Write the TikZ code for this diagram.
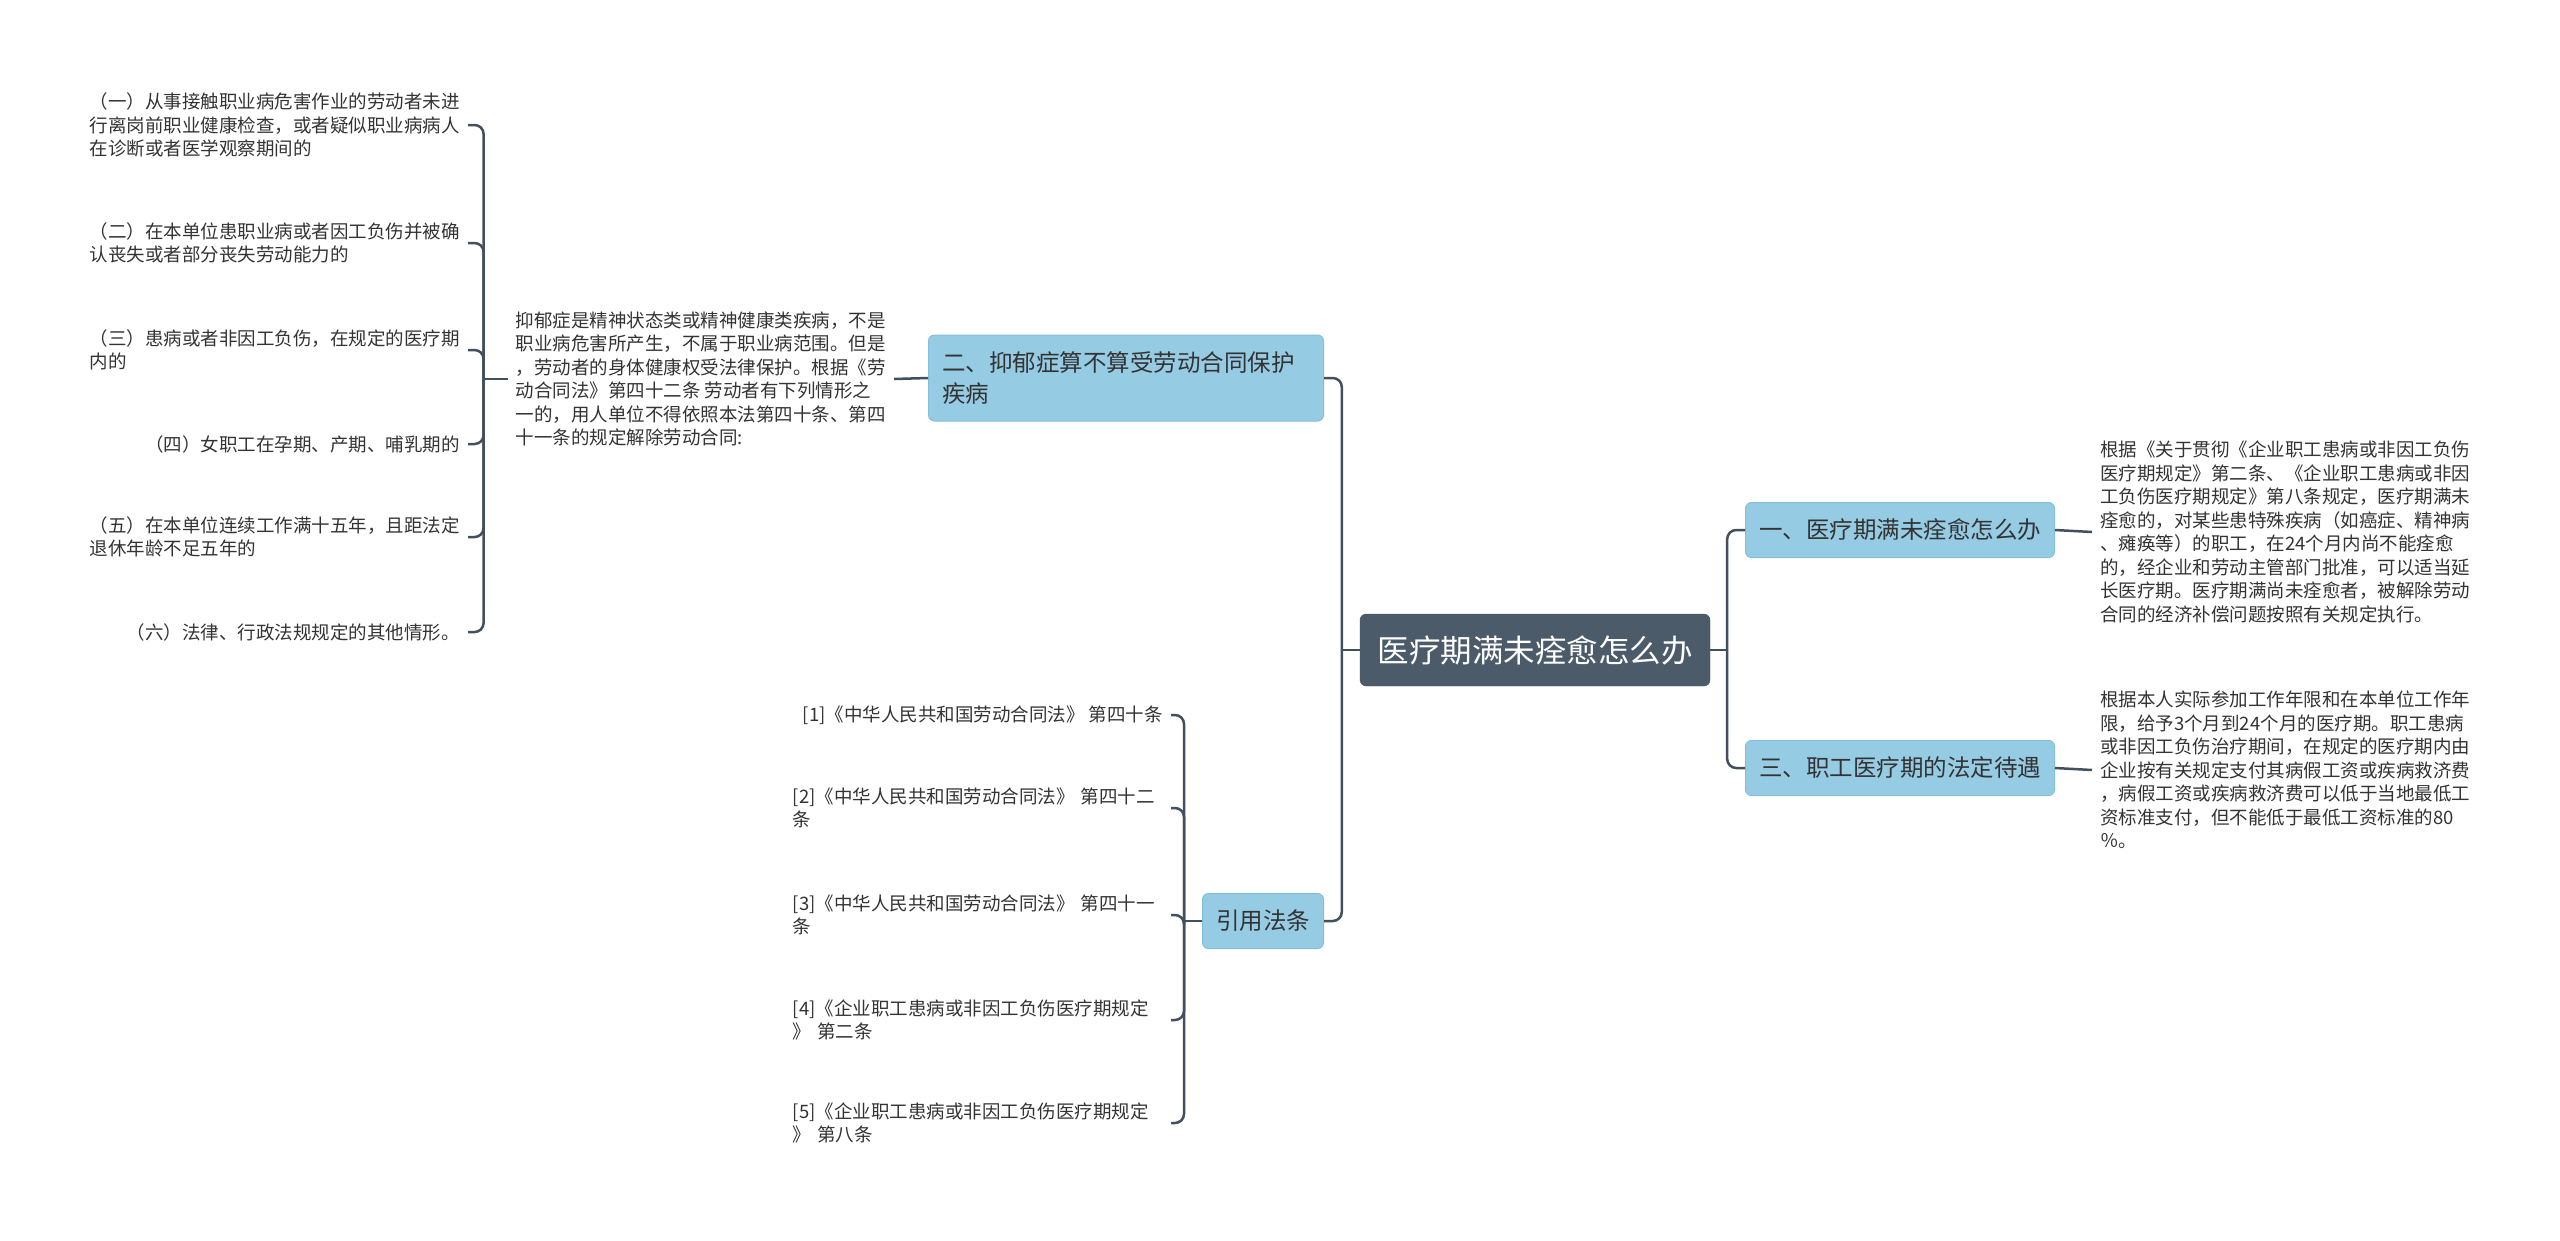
\documentclass[tikz,border=0pt]{standalone}
\usepackage{fontspec}
\setmainfont{Noto Sans CJK SC}
\usetikzlibrary{positioning}
\definecolor{rootfill}{RGB}{76,91,106}
\definecolor{subfill}{RGB}{150,203,228}
\definecolor{subline}{RGB}{132,190,220}
\definecolor{linkcol}{RGB}{66,79,92}
\definecolor{txtcol}{RGB}{51,51,51}

\begin{document}
\begin{tikzpicture}[x=1pt,y=-1pt,
  rootbox/.style={fill=rootfill, draw=rootfill, rounded corners=6pt, text=white,
    font=\fontsize{31.5}{36}\selectfont, minimum width=350pt, minimum height=72pt, inner sep=0pt},
  subbox/.style={fill=subfill, draw=subline, line width=1pt, rounded corners=6pt, text=txtcol,
    font=\fontsize{23.5}{31}\selectfont, inner xsep=13.5pt, inner ysep=4pt, minimum height=55pt},
  leaf/.style={text=txtcol, align=left, font=\fontsize{18.5}{23.5}\selectfont,
    inner xsep=8pt, inner ysep=2pt},
  citeleaf/.style={leaf, text width=370pt},
  link/.style={draw=linkcol, line width=2.5pt, rounded corners=9pt}]
\useasboundingbox (0,0) rectangle (2560,1240);
\node[rootbox] (root) at (1535,650) {医疗期满未痊愈怎么办};
\node[subbox, anchor=west] (s1) at (1745,530) {一、医疗期满未痊愈怎么办};
\node[subbox, anchor=west] (s3) at (1745,768) {三、职工医疗期的法定待遇};
\node[subbox, anchor=east, align=left, text width=368pt, minimum height=86pt] (s2) at (1324,378)
  {二、抑郁症算不算受劳动合同保护\\疾病};
\node[subbox, anchor=east] (s4) at (1324,921) {引用法条};

\node[leaf, anchor=west] (r1) at (2092,532) {根据《关于贯彻《企业职工患病或非因工负伤\\医疗期规定》第二条、《企业职工患病或非因\\工负伤医疗期规定》第八条规定，医疗期满未\\痊愈的，对某些患特殊疾病（如癌症、精神病\\、瘫痪等）的职工，在24个月内尚不能痊愈\\的，经企业和劳动主管部门批准，可以适当延\\长医疗期。医疗期满尚未痊愈者，被解除劳动\\合同的经济补偿问题按照有关规定执行。};
\node[leaf, anchor=west] (r3) at (2092,770) {根据本人实际参加工作年限和在本单位工作年\\限，给予3个月到24个月的医疗期。职工患病\\或非因工负伤治疗期间，在规定的医疗期内由\\企业按有关规定支付其病假工资或疾病救济费\\，病假工资或疾病救济费可以低于当地最低工\\资标准支付，但不能低于最低工资标准的80\\％。};
\node[leaf, anchor=east] (d1) at (894,379) {抑郁症是精神状态类或精神健康类疾病，不是\\职业病危害所产生，不属于职业病范围。但是\\，劳动者的身体健康权受法律保护。根据《劳\\动合同法》第四十二条 劳动者有下列情形之\\一的，用人单位不得依照本法第四十条、第四\\十一条的规定解除劳动合同:};

\node[leaf, anchor=east] (k1) at (468,125) {（一）从事接触职业病危害作业的劳动者未进\\行离岗前职业健康检查，或者疑似职业病病人\\在诊断或者医学观察期间的};
\node[leaf, anchor=east] (k2) at (468,243) {（二）在本单位患职业病或者因工负伤并被确\\认丧失或者部分丧失劳动能力的};
\node[leaf, anchor=east] (k3) at (468,350) {（三）患病或者非因工负伤，在规定的医疗期\\内的};
\node[leaf, anchor=east] (k4) at (468,444) {（四）女职工在孕期、产期、哺乳期的};
\node[leaf, anchor=east] (k5) at (468,537) {（五）在本单位连续工作满十五年，且距法定\\退休年龄不足五年的};
\node[leaf, anchor=east] (k6) at (468,632) {（六）法律、行政法规规定的其他情形。};

\node[leaf, anchor=east] (c1) at (1171,715) {[1]《中华人民共和国劳动合同法》 第四十条};
\node[citeleaf, anchor=east] (c2) at (1171,808) {[2]《中华人民共和国劳动合同法》 第四十二\\条};
\node[citeleaf, anchor=east] (c3) at (1171,915) {[3]《中华人民共和国劳动合同法》 第四十一\\条};
\node[citeleaf, anchor=east] (c4) at (1171,1020) {[4]《企业职工患病或非因工负伤医疗期规定\\》 第二条};
\node[citeleaf, anchor=east] (c5) at (1171,1123) {[5]《企业职工患病或非因工负伤医疗期规定\\》 第八条};

\coordinate (jr) at ([xshift=17pt]root.east);
\coordinate (jl) at ([xshift=-18pt]root.west);
\coordinate (jd) at ([xshift=-24pt]d1.west);
\coordinate (jc) at ([xshift=-18pt]s4.west);
\draw[link] (root.east) -- (jr);
\draw[link] (jr) |- (s1.west);
\draw[link] (jr) |- (s3.west);
\draw[link] (root.west) -- (jl);
\draw[link] (jl) |- (s2.east);
\draw[link] (jl) |- (s4.east);
\draw[link] (s1.east) -- (r1.west);
\draw[link] (s3.east) -- (r3.west);
\draw[link] (s2.west) -- (d1.east);
\draw[link] (d1.west) -- (jd);
\foreach \i in {1,...,6} \draw[link] (jd) |- (k\i.east);
\draw[link] (s4.west) -- (jc);
\foreach \i in {1,...,5} \draw[link] (jc) |- (c\i.east);
\end{tikzpicture}
\end{document}
